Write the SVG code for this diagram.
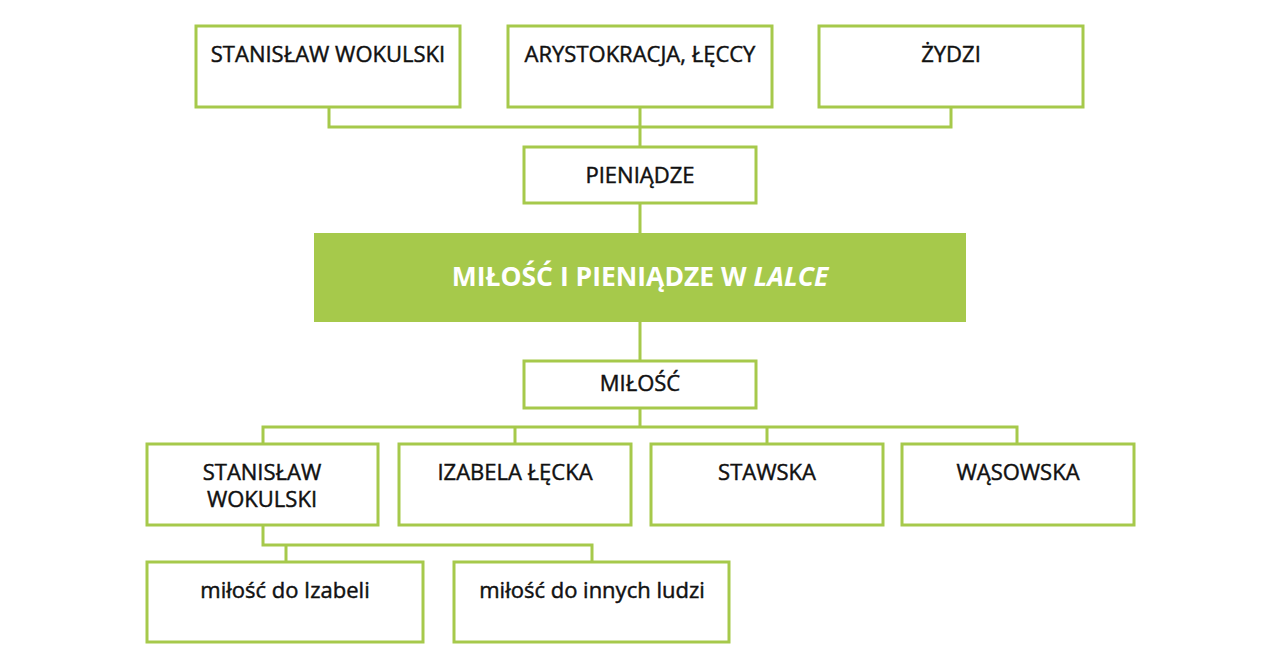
<svg xmlns="http://www.w3.org/2000/svg" width="1280" height="672" viewBox="0 0 1280 672">
<style>
.box{fill:#fff;stroke:#a6c94b;stroke-width:3}
.ln{fill:none;stroke:#a6c94b;stroke-width:3}
.t{font-family:"Open Sans","Liberation Sans",sans-serif;font-size:22px;font-weight:400;fill:#111;stroke:#111;stroke-width:0.45px;text-anchor:middle}
.title{font-family:"Open Sans","Liberation Sans",sans-serif;font-size:26.5px;font-weight:700;fill:#fff;text-anchor:middle}
</style>
<rect width="1280" height="672" fill="#fff"/>
<g id="connectors">
<path class="ln" d="M329 107V127H951V107M640 107V147M640 203V233M640 322V361M640 408V427M263 444V427H1017V444M515 427V444M767 427V444M263 525V545H592V562M286 545V562"/>
</g>
<g id="n1"><rect class="box" x="196" y="26" width="264" height="81"/><text class="t" x="328" y="62">STANISŁAW WOKULSKI</text></g>
<g id="n2"><rect class="box" x="508" y="26" width="264" height="81"/><text class="t" x="640" y="62">ARYSTOKRACJA, ŁĘCCY</text></g>
<g id="n3"><rect class="box" x="819" y="26" width="264" height="81"/><text class="t" x="951" y="62">ŻYDZI</text></g>
<g id="n4"><rect class="box" x="524" y="147" width="232" height="56"/><text class="t" x="640" y="183">PIENIĄDZE</text></g>
<g id="title"><rect x="314" y="233" width="652" height="89" fill="#a6c94b"/><text class="title" x="640" y="286">MIŁOŚĆ I PIENIĄDZE W <tspan font-style="italic">LALCE</tspan></text></g>
<g id="n5"><rect class="box" x="524" y="361" width="232" height="47"/><text class="t" x="640" y="391">MIŁOŚĆ</text></g>
<g id="n6"><rect class="box" x="147" y="444" width="231" height="81"/><text class="t" x="262" y="480">STANISŁAW</text><text class="t" x="262" y="507">WOKULSKI</text></g>
<g id="n7"><rect class="box" x="399" y="444" width="232" height="81"/><text class="t" x="515" y="480">IZABELA ŁĘCKA</text></g>
<g id="n8"><rect class="box" x="651" y="444" width="232" height="81"/><text class="t" x="767" y="480">STAWSKA</text></g>
<g id="n9"><rect class="box" x="902" y="444" width="232" height="81"/><text class="t" x="1018" y="480">WĄSOWSKA</text></g>
<g id="n10"><rect class="box" x="147" y="562" width="276" height="80"/><text class="t" x="285" y="598">miłość do Izabeli</text></g>
<g id="n11"><rect class="box" x="454" y="562" width="275" height="80"/><text class="t" x="592" y="598">miłość do innych ludzi</text></g>
</svg>
